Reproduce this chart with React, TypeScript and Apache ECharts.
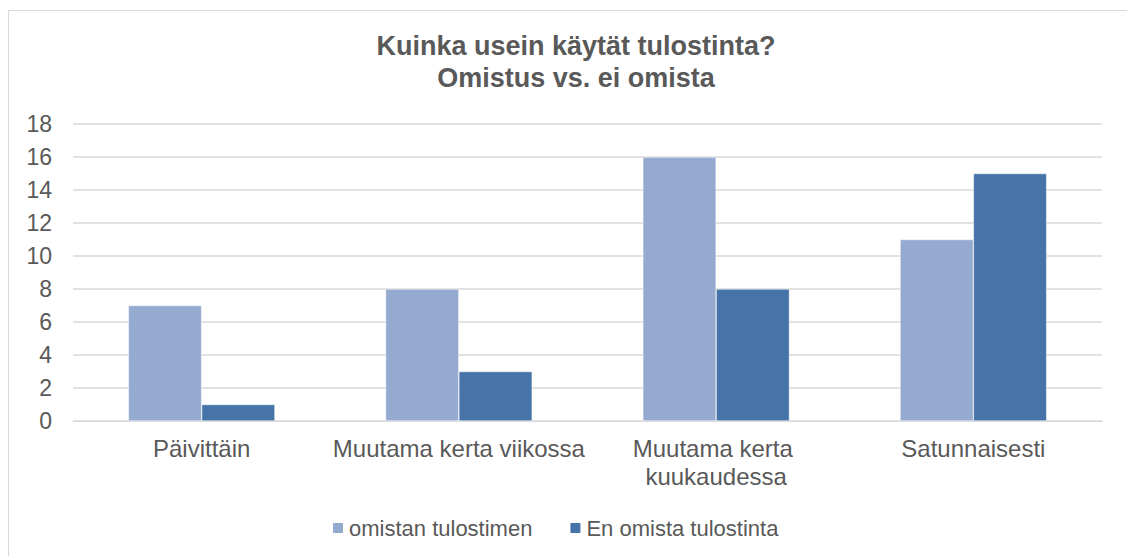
import React, { useEffect, useRef } from "react";
import * as echarts from "echarts";

const titleLines = ["Kuinka usein käytät tulostinta?", "Omistus vs. ei omista"];
const categories = ["Päivittäin", "Muutama kerta viikossa", "Muutama kerta kuukaudessa", "Satunnaisesti"];
const seriesNames = ["omistan tulostimen", "En omista tulostinta"];
const ownValues = [7, 8, 16, 11];
const notOwnValues = [1, 3, 8, 15];
const yTicks = { min: 0, max: 18, interval: 2 };

const TEXT = "#595959";
const FONT = "'Liberation Sans', Arial, sans-serif";

export default function App() {
  const ref = useRef<HTMLDivElement>(null);
  useEffect(() => {
    if (!ref.current) return;
    const chart = echarts.init(ref.current, undefined, { renderer: "svg" });
    chart.setOption({
      animation: false,
      textStyle: { fontFamily: FONT },
      title: {
        text: titleLines.join("\n"),
        left: 571,
        top: 25,
        textAlign: "center",
        textStyle: { fontFamily: FONT, fontSize: 27, fontWeight: "bold", color: TEXT, lineHeight: 32 },
      },
      graphic: [
        {
          type: "rect",
          shape: { x: 8.5, y: 10.5, width: 1140, height: 570 },
          style: { fill: "none", stroke: "#d9d9d9", lineWidth: 1 },
          silent: true,
        },
      ],
      legend: {
        left: 326,
        top: 512,
        itemWidth: 12,
        itemHeight: 12,
        itemGap: 36,
        icon: "rect",
        textStyle: { fontFamily: FONT, fontSize: 22, color: TEXT },
        data: seriesNames,
      },
      grid: { left: 73, right: 25, top: 124, bottom: 135, containLabel: false },
      xAxis: {
        type: "category",
        data: categories,
        axisLine: { show: true, lineStyle: { color: "#d9d9d9", width: 1 } },
        axisTick: { show: false },
        axisLabel: {
          fontFamily: FONT,
          fontSize: 24,
          color: TEXT,
          margin: 13,
          lineHeight: 28,
          width: 256,
          overflow: "break",
          interval: 0,
        },
      },
      yAxis: {
        type: "value",
        min: yTicks.min,
        max: yTicks.max,
        interval: yTicks.interval,
        axisLine: { show: false },
        axisTick: { show: false },
        splitLine: { lineStyle: { color: "#d9d9d9", width: 1.5 } },
        axisLabel: { fontFamily: FONT, fontSize: 23, color: TEXT, margin: 21 },
      },
      series: [
        {
          name: seriesNames[0],
          type: "bar",
          data: ownValues,
          barGap: "0%",
          barCategoryGap: "43%",
          itemStyle: { color: "#95AACF", borderColor: "#ffffff", borderWidth: 0.5 },
        },
        {
          name: seriesNames[1],
          type: "bar",
          data: notOwnValues,
          barGap: "0%",
          barCategoryGap: "43%",
          itemStyle: { color: "#4674A8", borderColor: "#ffffff", borderWidth: 0.5 },
        },
      ],
    });
    return () => chart.dispose();
  }, []);
  return (
    <div
      ref={ref}
      style={{ position: "absolute", left: 0, top: 0, width: 1127, height: 556, background: "#ffffff" }}
    />
  );
}
